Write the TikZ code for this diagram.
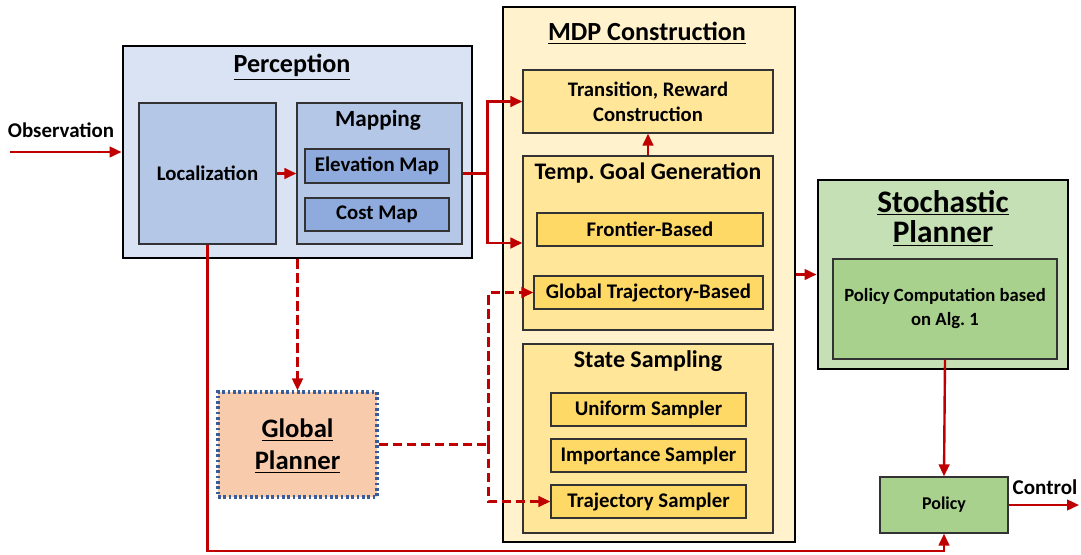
\documentclass[tikz,border=0pt]{standalone}
\usepackage{fontspec}
\setmainfont{Carlito}
\usepackage{tikz}
\usetikzlibrary{arrows.meta,fit,positioning}
\definecolor{redline}{HTML}{C00000}
\definecolor{percbg}{HTML}{DAE3F3}
\definecolor{percin}{HTML}{B4C7E7}
\definecolor{mapin}{HTML}{8FAADC}
\definecolor{mdpbg}{HTML}{FFF2CC}
\definecolor{mdpin}{HTML}{FFE699}
\definecolor{mdpitem}{HTML}{FFD966}
\definecolor{stochbg}{HTML}{C5E0B4}
\definecolor{stochin}{HTML}{A9D18E}
\definecolor{gpbg}{HTML}{F8CBAD}
\definecolor{gpline}{HTML}{3B5C9A}
\newcommand{\fsz}[1]{\fontsize{#1}{#1}\selectfont\bfseries}
\tikzset
{
  bigbox/.style   = {draw=black, line width=2.2pt, inner sep=0pt},
  subbox/.style   = {draw=black!80, line width=1pt, inner sep=0pt},
  boxtext/.style  = {align=center, inner sep=0pt, font=\fontsize{15.6}{19}\selectfont\bfseries},
  titletext/.style = {align=center, inner sep=0pt},
  redarrow/.style = {draw=redline, line width=1.8pt, ->},
  reddash/.style  = {draw=redline, line width=1.9pt, dash pattern=on 7pt off 3.5pt}
}

\begin{document}
\begin{tikzpicture}[>={Triangle[length=9pt,width=8pt]}, x=0.75pt, y=-0.75pt]
  \useasboundingbox (0,0) rectangle (1081,554);
  % perception
  \node [bigbox, fill=percbg, fit={(123,46) (472,258)}] (perc) {};
  \node [titletext, font=\fsz{19.6}] (perctitle) at (292,67) {\underline{Perception}};
  \node [subbox, fill=percin, fit={(139,103) (276,244)}, label={[boxtext]center:Localization}] (loc) {};
  \node [subbox, fill=percin, fit={(297,103) (462,244)}] (map) {};
  \node [titletext, font=\fsz{17.4}] (maptitle) at (378,120) {Mapping};
  \node [subbox, fill=mapin, fit={(305,149) (449,183)}, label={[boxtext]center:Elevation Map}] (elev) {};
  \node [subbox, fill=mapin, fit={(305,198) (449,231)}, label={[boxtext]center:Cost Map}] (cost) {};
  % mdp construction
  \node [bigbox, fill=mdpbg, fit={(503,7) (795,542)}] (mdp) {};
  \node [titletext, font=\fsz{19.6}] (mdptitle) at (647,33) {\underline{MDP Construction}};
  \node [subbox, fill=mdpin, fit={(523,70) (773,133)}, label={[boxtext, font=\fontsize{15.5}{19}\selectfont\bfseries]center:Transition, Reward\\Construction}] (trans) {};
  \node [subbox, fill=mdpin, fit={(523,156) (773,330)}] (temp) {};
  \node [titletext, font=\fsz{17.8}] (temptitle) at (648,173) {Temp.\ Goal Generation};
  \node [subbox, fill=mdpitem, fit={(537,213) (763,246)}, label={[boxtext]center:Frontier-Based}] (front) {};
  \node [subbox, fill=mdpitem, fit={(534,276) (763,309)}, label={[boxtext]center:Global Trajectory-Based}] (gtb) {};
  \node [subbox, fill=mdpin, fit={(523,344) (773,533)}] (state) {};
  \node [titletext, font=\fsz{18}] (statetitle) at (648,361) {State Sampling};
  \node [subbox, fill=mdpitem, fit={(551,393) (746,426)}, label={[boxtext]center:Uniform Sampler}] (unif) {};
  \node [subbox, fill=mdpitem, fit={(551,439) (746,472)}, label={[boxtext]center:Importance Sampler}] (imp) {};
  \node [subbox, fill=mdpitem, fit={(551,485) (746,518)}, label={[boxtext]center:Trajectory Sampler}] (trajs) {};
  % stochastic planner
  \node [bigbox, fill=stochbg, fit={(818,180) (1068,369)}] (stoch) {};
  \node [titletext, font=\fontsize{23.5}{23}\selectfont\bfseries] (stochtitle) at (943,218) {\underline{Stochastic}\\\underline{Planner}};
  \node [subbox, fill=stochin, fit={(833,259) (1057,359)}, label={[boxtext, font=\fontsize{14}{18}\selectfont\bfseries]center:Policy Computation based\\on Alg.\ 1}] (pcomp) {};
  \node [subbox, fill=stochin, fit={(880,477) (1008,533)}, label={[boxtext, font=\fsz{13.5}]center:Policy}] (policy) {};
  % global planner
  \node [draw=gpline, line width=2.3pt, dash pattern=on 2pt off 2pt, fill=gpbg, inner sep=0pt, fit={(218,392) (377,497)}] (gp) {};
  \node [titletext, font=\fontsize{20}{24}\selectfont\bfseries] (gptitle) at (297.5,446) {\underline{Global}\\\underline{Planner}};
  % free labels
  \node [titletext, font=\fsz{15.7}] (obslabel) at (61,130) {Observation};
  \node [titletext, font=\fsz{15.8}] (ctrllabel) at (1045,487) {Control};
  \coordinate (obs) at (10,152);
  \coordinate (ctrl) at (1079,505);
  \coordinate (bot) at (944,551);

  % solid connectors
  \draw [redarrow] (obs) -- (perc.west);
  \draw [redarrow] (loc.east) -- (map.west);
  \draw [redarrow] (map.east) -- ++(25,0) coordinate (jmap) |- (trans.west);
  \draw [redarrow] (jmap) |- (temp.west);
  \draw [redarrow] (temp.north) -- (trans.south);
  \draw [redarrow] (mdp.east) -- (stoch.west);
  \draw [redarrow] (pcomp.south) -- (policy.north);
  \draw [redarrow] (policy.east) -- (ctrl);
  \draw [redarrow] (loc.south) |- (bot) -- (policy.south);
  % dashed connectors
  \draw [reddash, ->] (perc.south) -- (gp.north);
  \draw [reddash] (gp.east) -- ++(110,0) coordinate (jgp);
  \draw [reddash, ->] (jgp) |- (gtb.west);
  \draw [reddash, ->] (jgp) |- (trajs.west);
\end{tikzpicture}
\end{document}
